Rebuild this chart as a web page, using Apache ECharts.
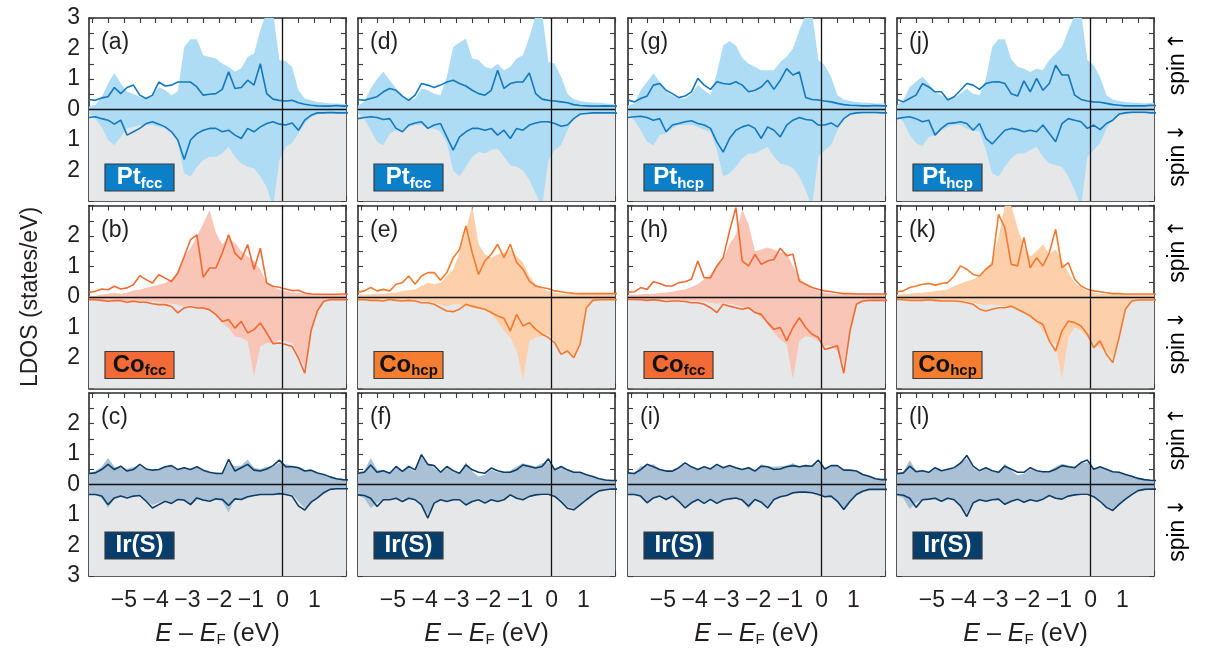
<!DOCTYPE html>
<html>
<head>
<meta charset="utf-8">
<title>LDOS panels</title>
<script src="https://cdn.jsdelivr.net/npm/echarts@6/dist/echarts.min.js"></script>
<style>
  html, body { margin: 0; padding: 0; background: #fff; }
  #main { width: 1205px; height: 653px; }
</style>
</head>
<body>
<div id="main"></div>
<script>
// energy grid, E - E_F in eV
const energy = [-6.1, -5.9, -5.7, -5.5, -5.3, -5.1, -4.9, -4.7, -4.5, -4.3,
  -4.1, -3.9, -3.7, -3.5, -3.3, -3.1, -2.9, -2.7, -2.5, -2.3,
  -2.1, -1.9, -1.7, -1.5, -1.3, -1.1, -0.9, -0.7, -0.5, -0.3,
  -0.1, 0.1, 0.3, 0.5, 0.7, 0.9, 1.1, 1.3, 1.5, 1.7, 1.9, 2.1];

// LDOS in states/eV. "Dn" arrays are spin-down magnitudes (drawn downwards)
// (a) Pt fcc
const aUpFill = [0.10,0.15,0.40,0.85,1.20,0.85,0.58,0.52,0.42,0.36, 0.47,0.74,0.63,0.47,0.60,2.05,2.30,2.30,1.78,1.72, 1.67,1.50,1.40,1.24,1.35,1.72,1.84,2.60,3.20,3.20, 1.62,1.58,1.40,0.63,0.36,0.30,0.25,0.23,0.20,0.20, 0.18,0.18];
const aUpLine = [0.33,0.30,0.38,0.42,0.72,0.52,0.72,0.80,0.47,0.36, 0.47,0.90,0.77,0.80,0.90,0.90,0.90,0.74,0.47,0.50, 0.52,0.66,1.24,0.69,0.72,0.96,0.80,1.50,0.52,0.34, 0.30,0.28,0.30,0.22,0.17,0.14,0.12,0.11,0.11,0.13, 0.11,0.12];
const aDnFill = [0.13,0.30,0.57,1.00,1.17,0.90,0.62,0.57,0.51,0.51, 0.51,0.57,0.62,0.68,1.10,2.10,2.20,1.88,1.66,1.55, 1.55,1.44,1.22,1.55,1.77,1.88,1.93,2.20,2.54,3.20, 1.66,1.22,1.10,0.79,0.46,0.24,0.16,0.13,0.13,0.13, 0.13,0.13];
const aDnLine = [0.26,0.24,0.30,0.35,0.48,0.35,0.84,0.73,0.62,0.46, 0.40,0.48,0.57,0.73,1.00,1.64,1.00,0.79,0.68,0.62, 0.62,0.73,0.68,0.84,0.95,0.62,0.73,0.57,0.46,0.40, 0.48,0.51,0.44,0.68,0.35,0.19,0.11,0.11,0.10,0.11, 0.11,0.11];
// (d) Pt fcc
const dUpFill = [0.14,0.25,0.69,1.00,1.24,0.96,0.69,0.42,0.30,0.36, 0.69,0.63,0.52,0.47,1.07,2.05,2.20,2.33,1.67,1.62, 1.40,1.34,1.50,1.29,1.40,1.67,1.78,2.38,3.10,3.20, 1.56,1.50,1.07,0.52,0.34,0.28,0.25,0.23,0.22,0.20, 0.18,0.18];
const dUpLine = [0.33,0.30,0.36,0.42,0.58,0.69,0.63,0.44,0.30,0.47, 0.85,0.80,0.72,0.80,0.90,0.96,0.85,0.77,0.63,0.52, 0.47,0.63,1.29,0.69,0.85,0.90,0.90,1.20,0.52,0.34, 0.30,0.28,0.25,0.22,0.16,0.13,0.12,0.11,0.11,0.12, 0.11,0.11];
const dDnFill = [0.13,0.30,0.68,1.06,1.17,0.79,0.68,0.68,0.57,0.51, 0.51,0.62,0.62,0.73,1.10,2.00,2.20,1.88,1.55,1.39, 1.44,1.33,1.28,1.55,1.83,1.88,2.00,2.30,2.75,3.20, 1.66,1.33,1.17,0.68,0.30,0.19,0.15,0.13,0.13,0.13, 0.13,0.13];
const dDnLine = [0.30,0.26,0.24,0.26,0.33,0.30,0.62,0.73,0.51,0.44, 0.40,0.62,0.51,0.46,0.90,1.33,0.90,0.73,0.62,0.62, 0.68,0.62,0.84,0.68,0.95,0.62,0.68,0.51,0.44,0.40, 0.40,0.46,0.55,0.51,0.30,0.15,0.13,0.11,0.11,0.11, 0.11,0.12];
// (g) Pt hcp
const gUpFill = [0.14,0.20,0.63,0.91,1.18,0.91,0.58,0.47,0.36,0.36, 0.52,0.80,0.63,0.47,1.20,2.10,2.25,2.10,1.70,1.50, 1.40,1.29,1.29,1.29,1.56,1.73,2.00,2.60,3.10,3.20, 1.62,1.45,1.07,0.47,0.33,0.28,0.25,0.23,0.22,0.20, 0.20,0.20];
const gUpLine = [0.31,0.25,0.36,0.44,0.80,0.85,0.63,0.52,0.39,0.44, 0.58,1.02,0.80,0.66,0.91,0.85,0.83,0.91,0.80,0.58, 0.63,0.74,0.96,0.66,0.96,1.34,1.13,1.23,0.39,0.33, 0.31,0.28,0.25,0.20,0.16,0.14,0.13,0.12,0.12,0.13, 0.12,0.12];
const gDnFill = [0.15,0.35,0.68,1.06,1.17,0.84,0.79,0.62,0.51,0.51, 0.51,0.57,0.66,0.73,1.33,2.20,2.10,1.88,1.60,1.44, 1.44,1.33,1.22,1.55,1.77,1.82,1.93,2.20,2.65,3.20, 1.55,1.33,1.17,0.68,0.30,0.19,0.15,0.13,0.13,0.13, 0.13,0.13];
const gDnLine = [0.26,0.24,0.22,0.26,0.35,0.30,0.73,0.51,0.46,0.40, 0.37,0.46,0.51,0.62,1.06,1.40,0.95,0.68,0.57,0.51, 0.62,0.95,0.57,0.68,0.90,0.51,0.35,0.26,0.33,0.35, 0.51,0.51,0.44,0.57,0.30,0.15,0.11,0.10,0.10,0.10, 0.11,0.11];
// (j) Pt hcp
const jUpFill = [0.14,0.31,0.74,0.91,1.07,0.85,0.58,0.47,0.36,0.39, 0.52,0.69,0.52,0.47,1.00,2.05,2.30,2.30,1.65,1.40, 1.34,1.23,1.34,1.29,1.62,1.84,2.05,2.60,3.10,3.20, 1.62,1.45,1.07,0.47,0.33,0.28,0.25,0.23,0.22,0.20, 0.22,0.20];
const jUpLine = [0.33,0.25,0.36,0.47,0.85,0.74,0.58,0.58,0.31,0.42, 0.63,0.85,0.80,0.66,0.85,0.90,0.91,0.85,0.52,0.44, 0.94,0.58,1.02,0.63,0.85,1.45,1.13,1.13,0.47,0.33, 0.28,0.25,0.24,0.20,0.16,0.14,0.12,0.12,0.12,0.12, 0.14,0.13];
const jDnFill = [0.19,0.40,0.84,1.11,1.20,0.90,0.84,0.68,0.57,0.51, 0.51,0.62,0.70,0.73,1.33,2.10,2.20,1.88,1.60,1.44, 1.44,1.33,1.22,1.55,1.77,1.82,1.88,2.20,2.65,3.20, 1.55,1.33,1.11,0.62,0.30,0.19,0.15,0.13,0.13,0.13, 0.13,0.13];
const jDnLine = [0.30,0.26,0.24,0.30,0.40,0.35,0.84,0.62,0.46,0.44, 0.40,0.46,0.68,0.46,0.95,1.13,0.90,0.68,0.62,0.66, 0.73,0.68,0.73,0.51,0.79,1.06,0.46,0.30,0.35,0.40, 0.62,0.51,0.66,0.46,0.35,0.15,0.11,0.09,0.09,0.09, 0.11,0.11];
// (b) Co fcc
const bUpFill = [0.04,0.04,0.08,0.11,0.13,0.11,0.15,0.21,0.24,0.30, 0.35,0.40,0.46,0.57,0.84,1.33,1.60,1.99,2.40,2.85, 2.10,1.72,1.93,1.77,1.50,1.33,1.17,0.90,0.46,0.33, 0.24,0.19,0.15,0.13,0.11,0.10,0.09,0.09,0.08,0.08, 0.08,0.08];
const bUpLine = [0.15,0.19,0.26,0.24,0.35,0.26,0.30,0.40,0.70,0.57, 0.46,0.73,0.62,0.51,0.79,1.33,1.88,2.04,0.65,0.95, 0.95,1.44,2.04,1.44,1.22,1.72,0.90,1.60,0.46,0.35, 0.32,0.26,0.21,0.22,0.13,0.10,0.09,0.09,0.09,0.09, 0.10,0.10];
const bDnFill = [0.07,0.09,0.09,0.11,0.12,0.14,0.14,0.14,0.14,0.14, 0.14,0.17,0.20,0.22,0.25,0.31,0.25,0.31,0.39,0.44, 0.58,0.85,1.02,1.29,1.34,1.45,2.60,1.62,1.51,1.51, 1.40,1.45,1.51,1.90,2.30,1.10,0.45,0.14,0.09,0.09, 0.09,0.09];
const bDnLine = [0.09,0.09,0.11,0.14,0.12,0.12,0.17,0.14,0.17,0.17, 0.22,0.25,0.25,0.31,0.52,0.36,0.31,0.36,0.36,0.42, 0.58,0.80,0.74,1.02,0.80,1.18,1.07,0.85,1.18,1.53, 1.51,1.56,1.62,2.00,2.50,1.10,0.45,0.14,0.09,0.09, 0.09,0.09];
// (e) Co hcp
const eUpFill = [0.07,0.07,0.09,0.11,0.11,0.13,0.15,0.20,0.22,0.25, 0.36,0.47,0.42,0.47,0.69,0.91,1.45,2.20,3.00,1.73, 1.40,1.29,1.40,1.45,1.56,1.34,1.13,0.69,0.42,0.27, 0.20,0.14,0.11,0.09,0.09,0.09,0.09,0.09,0.09,0.09, 0.09,0.09];
const eUpLine = [0.16,0.20,0.31,0.20,0.25,0.20,0.42,0.47,0.69,0.42, 0.69,0.80,0.80,0.55,0.80,1.29,1.56,2.33,1.45,0.74, 1.18,1.40,1.73,1.29,1.73,1.13,0.91,0.52,0.36,0.31, 0.27,0.20,0.17,0.14,0.12,0.11,0.11,0.11,0.11,0.11, 0.11,0.11];
const eDnFill = [0.07,0.07,0.08,0.08,0.09,0.09,0.09,0.09,0.11,0.11, 0.13,0.15,0.19,0.24,0.30,0.24,0.24,0.30,0.35,0.40, 0.40,0.57,0.79,1.11,1.33,1.77,2.70,1.44,1.33,1.28, 1.22,1.44,1.77,1.82,1.93,1.55,0.35,0.11,0.09,0.09, 0.09,0.09];
const eDnLine = [0.09,0.09,0.11,0.11,0.13,0.08,0.11,0.13,0.11,0.13, 0.19,0.19,0.24,0.35,0.46,0.48,0.40,0.24,0.30,0.35, 0.40,0.51,0.62,0.70,1.11,0.57,0.95,0.84,1.06,1.22, 1.33,1.50,1.88,1.77,1.99,1.55,0.35,0.11,0.09,0.09, 0.09,0.09];
// (h) Co fcc
const hUpFill = [0.07,0.07,0.09,0.11,0.11,0.13,0.15,0.17,0.22,0.25, 0.33,0.42,0.58,0.74,1.02,1.23,1.73,2.05,2.87,2.38, 1.50,1.56,1.62,1.56,1.45,1.45,1.02,0.63,0.42,0.27, 0.20,0.14,0.11,0.09,0.09,0.09,0.09,0.09,0.09,0.09, 0.09,0.09];
const hUpLine = [0.16,0.17,0.31,0.25,0.50,0.44,0.36,0.36,0.47,0.50, 0.58,1.18,0.63,0.63,1.02,1.29,2.16,2.93,1.18,1.02, 1.40,1.07,1.18,1.23,1.60,1.35,1.40,0.52,0.42,0.31, 0.25,0.20,0.17,0.14,0.11,0.11,0.10,0.10,0.10,0.10, 0.10,0.10];
const hDnFill = [0.05,0.05,0.07,0.08,0.08,0.09,0.09,0.11,0.11,0.11, 0.13,0.13,0.15,0.19,0.22,0.19,0.22,0.26,0.33,0.40, 0.51,0.68,0.90,1.17,1.39,1.55,2.70,1.44,1.28,1.33, 1.44,1.60,1.60,1.77,2.20,1.11,0.24,0.11,0.10,0.10, 0.10,0.10];
const hDnLine = [0.08,0.08,0.09,0.11,0.09,0.11,0.15,0.13,0.13,0.15, 0.19,0.19,0.24,0.35,0.51,0.24,0.30,0.35,0.40,0.35, 0.51,0.57,0.84,1.06,1.00,1.44,1.00,0.68,1.00,1.22, 1.33,1.72,1.66,1.60,2.50,1.10,0.24,0.13,0.11,0.11, 0.11,0.11];
// (k) Co hcp
const kUpFill = [0.09,0.09,0.11,0.14,0.14,0.16,0.20,0.22,0.25,0.36, 0.44,0.52,0.58,0.69,0.91,1.18,1.95,3.00,3.00,2.27, 1.62,1.34,1.50,1.73,1.40,1.56,1.18,0.80,0.47,0.31, 0.20,0.14,0.11,0.09,0.09,0.09,0.09,0.09,0.09,0.09, 0.09,0.09];
const kUpLine = [0.17,0.20,0.31,0.36,0.42,0.44,0.39,0.44,0.47,0.69, 1.02,0.91,0.74,0.69,0.91,1.07,2.71,2.27,1.07,1.02, 1.95,0.96,1.29,1.02,1.45,2.22,0.96,1.13,0.58,0.36, 0.25,0.20,0.17,0.14,0.11,0.11,0.10,0.10,0.10,0.10, 0.10,0.10];
const kDnFill = [0.05,0.07,0.07,0.08,0.08,0.09,0.09,0.09,0.11,0.11, 0.13,0.13,0.19,0.24,0.26,0.24,0.26,0.30,0.35,0.40, 0.51,0.68,0.84,1.11,1.44,1.55,2.70,1.33,1.00,1.11, 1.33,1.55,1.66,1.77,1.99,1.33,0.40,0.13,0.10,0.10, 0.10,0.10];
const kDnLine = [0.08,0.09,0.11,0.11,0.11,0.09,0.11,0.13,0.13,0.13, 0.15,0.19,0.24,0.40,0.46,0.40,0.35,0.35,0.30,0.40, 0.51,0.62,0.79,0.90,1.44,1.77,1.11,0.79,0.84,0.95, 1.22,1.66,1.44,1.88,2.15,1.33,0.40,0.13,0.10,0.10, 0.10,0.10];
// (c) Ir(S)
const cUpFill = [0.38,0.44,0.58,0.87,0.58,0.55,0.51,0.58,0.60,0.49, 0.47,0.49,0.58,0.60,0.51,0.55,0.49,0.55,0.49,0.38, 0.40,0.38,0.71,0.60,0.62,0.82,0.55,0.51,0.58,0.58, 0.71,0.66,0.62,0.58,0.47,0.44,0.36,0.30,0.22,0.19, 0.16,0.16];
const cUpLine = [0.36,0.38,0.49,0.66,0.49,0.60,0.44,0.49,0.66,0.51, 0.47,0.49,0.58,0.62,0.49,0.55,0.49,0.58,0.47,0.40, 0.36,0.36,0.82,0.44,0.55,0.66,0.47,0.44,0.51,0.62, 0.80,0.58,0.58,0.55,0.44,0.47,0.38,0.33,0.25,0.19, 0.16,0.15];
const cDnFill = [0.33,0.33,0.44,0.77,0.44,0.38,0.40,0.36,0.38,0.55, 0.66,0.60,0.51,0.60,0.49,0.55,0.66,0.47,0.55,0.51, 0.49,0.55,0.93,0.44,0.51,0.44,0.38,0.33,0.33,0.33, 0.27,0.30,0.33,0.55,0.77,0.62,0.44,0.27,0.16,0.14, 0.14,0.14];
const cDnLine = [0.33,0.33,0.38,0.66,0.44,0.38,0.44,0.38,0.36,0.55, 0.77,0.66,0.55,0.62,0.49,0.51,0.66,0.44,0.51,0.55, 0.47,0.49,0.69,0.47,0.49,0.40,0.36,0.33,0.33,0.33, 0.30,0.33,0.38,0.70,0.84,0.58,0.44,0.27,0.16,0.14, 0.14,0.14];
// (f) Ir(S)
const fUpFill = [0.40,0.45,0.86,0.48,0.48,0.40,0.54,0.45,0.54,0.43, 0.90,0.70,0.54,0.37,0.54,0.40,0.37,0.73,0.43,0.26, 0.32,0.48,0.40,0.40,0.45,0.59,0.70,0.64,0.59,0.70, 0.73,0.54,0.59,0.48,0.40,0.40,0.32,0.26,0.19,0.15, 0.13,0.13];
const fUpLine = [0.37,0.40,0.64,0.40,0.45,0.37,0.59,0.43,0.59,0.48, 0.98,0.66,0.62,0.40,0.59,0.45,0.37,0.64,0.48,0.40, 0.37,0.54,0.45,0.40,0.40,0.48,0.64,0.59,0.54,0.59, 0.84,0.48,0.59,0.48,0.40,0.40,0.32,0.26,0.19,0.15, 0.13,0.13];
const fDnFill = [0.36,0.45,0.78,0.61,0.50,0.47,0.45,0.50,0.45,0.50, 0.67,0.99,0.58,0.50,0.56,0.50,0.50,0.67,0.58,0.45, 0.61,0.50,0.56,0.47,0.34,0.45,0.47,0.36,0.32,0.28, 0.28,0.39,0.50,0.72,0.78,0.67,0.50,0.34,0.21,0.17, 0.15,0.15];
const fDnLine = [0.34,0.36,0.45,0.72,0.50,0.50,0.45,0.56,0.45,0.50, 0.67,1.10,0.61,0.50,0.56,0.50,0.50,0.67,0.56,0.50, 0.61,0.50,0.56,0.50,0.34,0.45,0.50,0.39,0.34,0.32, 0.32,0.39,0.56,0.78,0.83,0.67,0.50,0.34,0.21,0.17, 0.15,0.15];
// (i) Ir(S)
const iUpFill = [0.36,0.38,0.60,0.62,0.66,0.50,0.47,0.44,0.55,0.66, 0.58,0.50,0.55,0.50,0.62,0.55,0.60,0.55,0.50,0.58, 0.47,0.66,0.60,0.58,0.60,0.62,0.70,0.58,0.62,0.60, 0.72,0.55,0.60,0.60,0.47,0.47,0.42,0.33,0.27,0.20, 0.17,0.16];
const iUpLine = [0.38,0.36,0.49,0.66,0.58,0.49,0.44,0.44,0.55,0.71, 0.58,0.49,0.58,0.51,0.66,0.55,0.62,0.55,0.49,0.55, 0.44,0.60,0.58,0.49,0.51,0.58,0.62,0.58,0.62,0.60, 0.80,0.51,0.62,0.62,0.47,0.47,0.44,0.33,0.27,0.19, 0.16,0.16];
const iDnFill = [0.30,0.33,0.40,0.58,0.44,0.40,0.47,0.40,0.55,0.72, 0.60,0.49,0.58,0.49,0.60,0.50,0.47,0.44,0.50,0.80, 0.50,0.58,0.72,0.47,0.40,0.36,0.30,0.27,0.25,0.27, 0.33,0.42,0.40,0.55,0.80,0.58,0.36,0.22,0.17,0.16, 0.16,0.16];
const iDnLine = [0.33,0.33,0.38,0.60,0.44,0.38,0.49,0.38,0.55,0.77, 0.60,0.49,0.62,0.49,0.62,0.51,0.47,0.44,0.51,0.71, 0.49,0.58,0.77,0.49,0.40,0.36,0.27,0.25,0.25,0.27, 0.33,0.40,0.38,0.55,0.82,0.55,0.33,0.22,0.16,0.16, 0.16,0.16];
// (l) Ir(S)
const lUpFill = [0.38,0.42,0.80,0.45,0.48,0.40,0.52,0.45,0.52,0.50, 0.75,0.85,0.55,0.40,0.52,0.42,0.40,0.68,0.45,0.30, 0.35,0.50,0.42,0.42,0.45,0.58,0.68,0.62,0.58,0.70, 0.72,0.52,0.58,0.48,0.42,0.40,0.33,0.27,0.20,0.16, 0.14,0.13];
const lUpLine = [0.35,0.38,0.60,0.42,0.45,0.40,0.55,0.45,0.50,0.55, 0.70,0.95,0.60,0.45,0.55,0.45,0.40,0.60,0.50,0.40, 0.40,0.55,0.45,0.42,0.42,0.50,0.62,0.58,0.55,0.72, 0.80,0.50,0.58,0.50,0.42,0.40,0.33,0.27,0.20,0.16, 0.14,0.13];
const lDnFill = [0.35,0.45,0.80,0.60,0.50,0.46,0.45,0.50,0.45,0.50, 0.68,0.95,0.56,0.48,0.55,0.48,0.48,0.66,0.56,0.45, 0.60,0.48,0.55,0.46,0.34,0.45,0.46,0.36,0.32,0.28, 0.28,0.40,0.50,0.72,0.80,0.65,0.48,0.33,0.20,0.16, 0.15,0.15];
const lDnLine = [0.33,0.35,0.45,0.75,0.50,0.48,0.45,0.55,0.45,0.50, 0.70,1.05,0.60,0.50,0.55,0.50,0.48,0.65,0.55,0.48, 0.58,0.50,0.55,0.48,0.36,0.45,0.48,0.38,0.34,0.32, 0.32,0.40,0.55,0.75,0.85,0.65,0.48,0.33,0.20,0.16, 0.15,0.15];

// tick positions and labels
const xTicks = [-6, -5.5, -5, -4.5, -4, -3.5, -3, -2.5, -2, -1.5, -1, -0.5, 0, 0.5, 1, 1.5, 2];
const xTickLabels = [-5, -4, -3, -2, -1, 0, 1];

const panels = [
  { tag: '(a)', row: 0, col: 0, kind: 'Pt', sub: 'fcc', upFill: aUpFill, upLine: aUpLine, dnFill: aDnFill, dnLine: aDnLine },
  { tag: '(d)', row: 0, col: 1, kind: 'Pt', sub: 'fcc', upFill: dUpFill, upLine: dUpLine, dnFill: dDnFill, dnLine: dDnLine },
  { tag: '(g)', row: 0, col: 2, kind: 'Pt', sub: 'hcp', upFill: gUpFill, upLine: gUpLine, dnFill: gDnFill, dnLine: gDnLine },
  { tag: '(j)', row: 0, col: 3, kind: 'Pt', sub: 'hcp', upFill: jUpFill, upLine: jUpLine, dnFill: jDnFill, dnLine: jDnLine },
  { tag: '(b)', row: 1, col: 0, kind: 'Co', sub: 'fcc', upFill: bUpFill, upLine: bUpLine, dnFill: bDnFill, dnLine: bDnLine },
  { tag: '(e)', row: 1, col: 1, kind: 'Co', sub: 'hcp', upFill: eUpFill, upLine: eUpLine, dnFill: eDnFill, dnLine: eDnLine },
  { tag: '(h)', row: 1, col: 2, kind: 'Co', sub: 'fcc', upFill: hUpFill, upLine: hUpLine, dnFill: hDnFill, dnLine: hDnLine },
  { tag: '(k)', row: 1, col: 3, kind: 'Co', sub: 'hcp', upFill: kUpFill, upLine: kUpLine, dnFill: kDnFill, dnLine: kDnLine },
  { tag: '(c)', row: 2, col: 0, kind: 'Ir(S)', sub: '', upFill: cUpFill, upLine: cUpLine, dnFill: cDnFill, dnLine: cDnLine },
  { tag: '(f)', row: 2, col: 1, kind: 'Ir(S)', sub: '', upFill: fUpFill, upLine: fUpLine, dnFill: fDnFill, dnLine: fDnLine },
  { tag: '(i)', row: 2, col: 2, kind: 'Ir(S)', sub: '', upFill: iUpFill, upLine: iUpLine, dnFill: iDnFill, dnLine: iDnLine },
  { tag: '(l)', row: 2, col: 3, kind: 'Ir(S)', sub: '', upFill: lUpFill, upLine: lUpLine, dnFill: lDnFill, dnLine: lDnLine }
];

const palette = {
  'Pt':     { fill: '#aedcf5', line: '#1478be', badge: '#0b80c8', text: '#ffffff' },
  'Co_fcc': { fill: '#f9c5b6', line: '#f06a32', badge: '#f26a36', text: '#111111' },
  'Co_hcp': { fill: '#fdcfab', line: '#f37a2e', badge: '#f47d30', text: '#111111' },
  'Ir(S)':  { fill: '#a9c0d5', line: '#0c3d68', badge: '#083e6c', text: '#ffffff' }
};

const FONT = '"Liberation Sans", Arial, Helvetica, sans-serif';
const ink = '#231f20';
const frame = '#2b2b2b';

// panel layout (px)
const colLeft = [89, 358, 628, 897];
const rowTop = [18, 205.5, 393];
const panelW = 257, panelH = 183;
const badgeOffset = [146, 146, 139];

const measureCtx = document.createElement('canvas').getContext('2d');
function textW(str, size, weight, style) {
  measureCtx.font = (style || 'normal') + ' ' + (weight || 'normal') + ' ' + size + 'px ' + FONT;
  return measureCtx.measureText(str).width;
}

function minusFmt(v) {
  return v < 0 ? '\u2212' + Math.abs(v) : String(v);
}

const grids = [], xAxes = [], yAxes = [], series = [], graphics = [];

panels.forEach((p, i) => {
  const col = palette[p.kind === 'Co' ? 'Co_' + p.sub : p.kind];
  const left = colLeft[p.col], top = rowTop[p.row];
  grids.push({ left: left, top: top, width: panelW, height: panelH, containLabel: false });

  const axisLine = { show: true, onZero: false, lineStyle: { color: frame, width: 1.6 } };
  const tickStyle = { color: '#3a3a3a', width: 1.1 };
  const xBase = {
    type: 'value', gridIndex: i, min: -6.1, max: 2,
    axisLine: axisLine,
    axisTick: { show: true, inside: true, length: 5, customValues: xTicks, lineStyle: tickStyle },
    splitLine: { show: false }
  };
  xAxes.push(Object.assign({}, xBase, {
    position: 'bottom',
    axisLabel: {
      show: p.row === 2, customValues: xTickLabels, formatter: minusFmt,
      fontSize: 23, fontFamily: FONT, color: ink, margin: 13
    }
  }));
  xAxes.push(Object.assign({}, xBase, { position: 'top', axisLabel: { show: false } }));

  const yBase = {
    type: 'value', gridIndex: i, min: -3, max: 3, interval: 1,
    axisLine: axisLine,
    axisTick: { show: true, inside: true, length: 5, lineStyle: tickStyle },
    minorTick: { show: true, splitNumber: 2, length: 5, lineStyle: tickStyle },
    splitLine: { show: false }
  };
  yAxes.push(Object.assign({}, yBase, {
    position: 'left',
    axisLabel: {
      show: p.col === 0, formatter: v => String(Math.abs(v)),
      showMinLabel: p.row === 2, showMaxLabel: p.row === 0,
      fontSize: 23, fontFamily: FONT, color: ink, margin: 9
    }
  }));
  yAxes.push(Object.assign({}, yBase, { position: 'right', axisLabel: { show: false } }));

  const xi = 2 * i, yi = 2 * i;
  const common = { type: 'line', xAxisIndex: xi, yAxisIndex: yi, symbol: 'none', silent: true, animation: false };

  // spin-down half of the panel is shaded grey
  series.push(Object.assign({}, common, {
    data: [[-6.1, -3], [2, -3]],
    lineStyle: { width: 0 },
    areaStyle: { color: '#e6e7e8', opacity: 1 }
  }));
  series.push(Object.assign({}, common, {
    data: energy.map((e, k) => [e, p.upFill[k]]),
    lineStyle: { width: 0 },
    areaStyle: { color: col.fill, opacity: 1 }
  }));
  series.push(Object.assign({}, common, {
    data: energy.map((e, k) => [e, -p.dnFill[k]]),
    lineStyle: { width: 0 },
    areaStyle: { color: col.fill, opacity: 1 }
  }));
  series.push(Object.assign({}, common, {
    data: energy.map((e, k) => [e, p.upLine[k]]),
    lineStyle: { color: col.line, width: 1.6 }
  }));
  series.push(Object.assign({}, common, {
    data: energy.map((e, k) => [e, -p.dnLine[k]]),
    lineStyle: { color: col.line, width: 1.6 },
    markLine: {
      silent: true, symbol: ['none', 'none'], animation: false,
      label: { show: false },
      lineStyle: { color: '#111', width: 1.3, type: 'solid' },
      data: [{ yAxis: 0 }, { xAxis: 0 }]
    }
  }));

  // panel tag
  graphics.push({
    type: 'text', x: left + 12, y: top + 25, z: 100,
    style: { text: p.tag, fontSize: 23, fontFamily: FONT, fill: ink, align: 'left', verticalAlign: 'middle' }
  });

  // material badge
  const bx = left + 16, by = top + badgeOffset[p.row], bw = 69, bh = 27;
  graphics.push({
    type: 'rect', x: bx, y: by, z: 100,
    shape: { width: bw, height: bh },
    style: { fill: col.badge, stroke: '#3b3b3b', lineWidth: 1.2 }
  });
  const mainTxt = p.kind;
  const wMain = textW(mainTxt, 24, 'bold');
  const wSub = p.sub ? textW(p.sub, 15, 'bold') : 0;
  const x0 = bx + (bw - wMain - wSub) / 2;
  graphics.push({
    type: 'text', x: x0, y: by + bh / 2, z: 101,
    style: { text: mainTxt, fontSize: 24, fontWeight: 'bold', fontFamily: FONT, fill: col.text, align: 'left', verticalAlign: 'middle' }
  });
  if (p.sub) {
    graphics.push({
      type: 'text', x: x0 + wMain, y: by + bh / 2 + 6, z: 101,
      style: { text: p.sub, fontSize: 15, fontWeight: 'bold', fontFamily: FONT, fill: col.text, align: 'left', verticalAlign: 'middle' }
    });
  }

  // x-axis title under bottom row: E - E_F (eV)
  if (p.row === 2) {
    const parts = [
      { t: 'E', size: 25, style: 'italic', dy: 0 },
      { t: ' \u2013 ', size: 25, style: 'normal', dy: 0 },
      { t: 'E', size: 25, style: 'italic', dy: 0 },
      { t: 'F', size: 15, style: 'normal', dy: 6 },
      { t: ' (eV)', size: 25, style: 'normal', dy: 0 }
    ];
    const widths = parts.map(q => textW(q.t, q.size, 'normal', q.style));
    let cx = left + panelW / 2 - widths.reduce((a, b) => a + b, 0) / 2;
    parts.forEach((q, k) => {
      graphics.push({
        type: 'text', x: cx, y: 634 + q.dy, z: 100,
        style: { text: q.t, fontSize: q.size, fontStyle: q.style, fontFamily: FONT, fill: ink, align: 'left', verticalAlign: 'middle' }
      });
      cx += widths[k];
    });
  }
});

// spin labels on the right of each row (arrow drawn with DejaVu, which has full-size arrows)
rowTop.forEach(t => {
  const zero = t + panelH / 2;
  [['\u2191', zero - panelH / 4], ['\u2193', zero + panelH / 4]].forEach(([arrow, yc]) => {
    graphics.push({
      type: 'text', x: 1178, y: yc, rotation: Math.PI / 2, z: 100,
      style: {
        text: '{w|spin} {a|' + arrow + '}',
        align: 'center', verticalAlign: 'middle',
        rich: {
          w: { fontSize: 23, fontFamily: FONT, color: ink },
          a: { fontSize: 21, fontFamily: '"DejaVu Sans", sans-serif', color: '#4a4a4a' }
        }
      }
    });
  });
});

// y-axis title
graphics.push({
  type: 'text', x: 31, y: 297, rotation: Math.PI / 2, z: 100,
  style: { text: 'LDOS (states/eV)', fontSize: 23, fontFamily: FONT, fill: ink, align: 'center', verticalAlign: 'middle' }
});

const chart = echarts.init(document.getElementById('main'), null, { renderer: 'canvas' });
chart.setOption({
  backgroundColor: '#ffffff',
  animation: false,
  grid: grids,
  xAxis: xAxes,
  yAxis: yAxes,
  series: series,
  graphic: graphics
});
</script>
</body>
</html>
